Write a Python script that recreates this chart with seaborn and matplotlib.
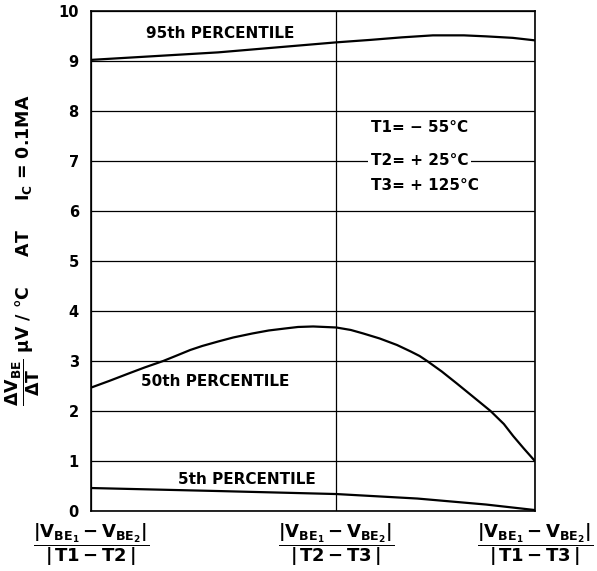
import matplotlib
matplotlib.use("Agg")
import matplotlib.pyplot as plt
import seaborn as sns
import pandas as pd

# ---- data ----
tick_pos = [0.0, 0.552, 1.0]
tick_labels = [
    r"$\dfrac{|V_{BE_1}-V_{BE_2}|}{|\,T1-T2\,|}$",
    r"$\dfrac{|V_{BE_1}-V_{BE_2}|}{|\,T2-T3\,|}$",
    r"$\dfrac{|V_{BE_1}-V_{BE_2}|}{|\,T1-T3\,|}$",
]

p95_x = [0.0, 0.286, 0.552, 0.63, 0.70, 0.77, 0.84, 0.89, 0.95, 1.0]
p95_y = [9.02, 9.17, 9.37, 9.42, 9.47, 9.51, 9.51, 9.49, 9.46, 9.41]

p50_x = [0.0, 0.04, 0.087, 0.12, 0.162, 0.19, 0.223, 0.25, 0.286, 0.32,
         0.363, 0.40, 0.437, 0.466, 0.50, 0.552, 0.585, 0.613, 0.65,
         0.689, 0.72, 0.74, 0.757, 0.79, 0.824, 0.86, 0.90, 0.93, 0.951,
         0.975, 1.0]
p50_y = [2.47, 2.60, 2.76, 2.87, 3.0, 3.10, 3.22, 3.30, 3.39, 3.47,
         3.55, 3.61, 3.65, 3.68, 3.69, 3.67, 3.62, 3.55, 3.45,
         3.32, 3.19, 3.10, 3.0, 2.79, 2.55, 2.29, 2.0, 1.74, 1.50,
         1.25, 1.0]

p5_x = [0.0, 0.286, 0.552, 0.735, 0.89, 1.0]
p5_y = [0.46, 0.40, 0.34, 0.25, 0.13, 0.02]

series_names = ["95th PERCENTILE", "50th PERCENTILE", "5th PERCENTILE"]
label_pos = [(0.29, 9.55), (0.28, 2.59), (0.35, 0.64)]
temps = ["T1= \u2212 55\u00b0C", "T2= + 25\u00b0C", "T3= + 125\u00b0C"]
temp_y = [7.66, 7.0, 6.5]
ylabel_text = (r"$\dfrac{\Delta V_{BE}}{\Delta T}$ $\mu$V / " + "\u00b0C     AT     "
               + r"I$_C$ = 0.1MA")

# ---- styling ----
sns.set_style("white")
plt.rcParams["font.family"] = ["DejaVu Sans"]
plt.rcParams["mathtext.fontset"] = "dejavusans"
plt.rcParams["mathtext.default"] = "bf"
plt.rcParams["text.color"] = "black"
plt.rcParams["axes.labelcolor"] = "black"
plt.rcParams["xtick.color"] = "black"
plt.rcParams["ytick.color"] = "black"

df = pd.concat([
    pd.DataFrame({"x": p95_x, "y": p95_y, "s": series_names[0]}),
    pd.DataFrame({"x": p50_x, "y": p50_y, "s": series_names[1]}),
    pd.DataFrame({"x": p5_x, "y": p5_y, "s": series_names[2]}),
])

fig = plt.figure(figsize=(5.97, 5.71), dpi=100)
ax = fig.add_axes([0.153, 0.105, 0.743, 0.876])

sns.lineplot(data=df, x="x", y="y", units="s", estimator=None, sort=False,
             color="black", lw=1.6, ax=ax, legend=False)

ax.set_xlim(0, 1)
ax.set_ylim(0, 10)
ax.set_yticks(range(11))
ax.set_yticklabels([str(i) for i in range(11)], fontsize=10.5, fontweight="bold")
ax.set_xticks(tick_pos)
ax.set_xticklabels(tick_labels, fontsize=13)
ax.tick_params(axis="both", length=0)
ax.tick_params(axis="y", pad=9)
ax.tick_params(axis="x", pad=7)
ax.grid(True, color="black", lw=0.9)
for sp in ax.spines.values():
    sp.set_color("black")
    sp.set_linewidth(1.2)

ax.set_xlabel("")
ax.set_ylabel(ylabel_text, fontsize=12.5, fontweight="bold")
ax.yaxis.set_label_coords(-0.112, 0.522)

for name, (lx, ly) in zip(series_names, label_pos):
    ax.text(lx, ly, name, ha="center", va="center", fontsize=11,
            fontweight="bold")

for t, ty in zip(temps, temp_y):
    ax.text(0.63, ty, t, ha="left", va="center", fontsize=11,
            fontweight="bold",
            bbox=dict(facecolor="white", edgecolor="none", pad=2))

fig.savefig("out.png", dpi=100)
